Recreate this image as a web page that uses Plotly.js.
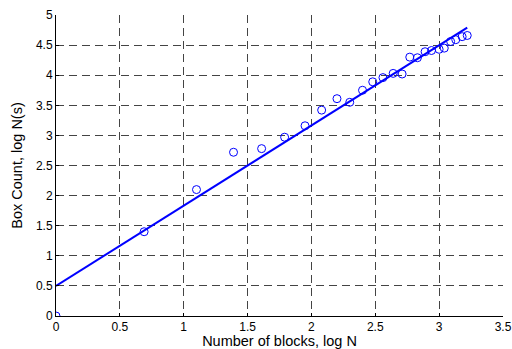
<!DOCTYPE html>
<html>
<head>
<meta charset="utf-8">
<script src="https://cdn.plot.ly/plotly-3.0.1.min.js"></script>
<style>html,body{margin:0;padding:0;background:#fff;}#chart{width:512px;height:349px;}</style>
</head>
<body>
<div id="chart"></div>
<script>
// log N (number of blocks)
const logN = [0, 0.69, 1.10, 1.39, 1.61, 1.79, 1.95, 2.08, 2.20, 2.30, 2.40, 2.48, 2.56, 2.64, 2.71, 2.77, 2.83, 2.89, 2.94, 3.00, 3.04, 3.09, 3.13, 3.18, 3.22];
// log N(s) box count
const logNs = [0, 1.40, 2.10, 2.72, 2.78, 2.97, 3.16, 3.42, 3.61, 3.55, 3.75, 3.89, 3.96, 4.03, 4.02, 4.30, 4.29, 4.39, 4.41, 4.43, 4.45, 4.56, 4.59, 4.64, 4.66];
// fitted line endpoints
const fitX = [0, 3.22];
const fitY = [0.5, 4.79];
const xTicks = [0, 0.5, 1, 1.5, 2, 2.5, 3, 3.5];
const yTicks = [0, 0.5, 1, 1.5, 2, 2.5, 3, 3.5, 4, 4.5, 5];

const font = 'Liberation Sans, Arial, sans-serif';
const traces = [
  {x: fitX, y: fitY, mode: 'lines', line: {color: '#0000ff', width: 2}, hoverinfo: 'skip'},
  {x: logN, y: logNs, mode: 'markers', marker: {symbol: 'circle-open', size: 8, color: '#0000ff', line: {width: 1, color: '#0000ff'}}}
];
const axisCommon = {
  showgrid: true, gridcolor: '#444', griddash: '8px,5px', gridwidth: 1,
  zeroline: false, showline: true, linecolor: '#000', linewidth: 1,
  ticks: 'inside', ticklen: 3, tickcolor: '#000',
  tickfont: {family: font, size: 12, color: '#000'}
};
const layout = {
  width: 512, height: 349,
  margin: {l: 55.5, r: 8.5, t: 15, b: 33},
  paper_bgcolor: '#fff', plot_bgcolor: '#fff',
  showlegend: false,
  font: {family: font, color: '#000'},
  xaxis: Object.assign({}, axisCommon, {
    range: [0, 3.5], tickvals: xTicks, ticktext: xTicks.map(String),
    title: {text: 'Number of blocks, log N', font: {family: font, size: 14.5, color: '#000'}, standoff: 3},
    automargin: false
  }),
  yaxis: Object.assign({}, axisCommon, {
    range: [0, 5], tickvals: yTicks, ticktext: yTicks.map(String),
    title: {text: 'Box Count, log N(s)', font: {family: font, size: 14.5, color: '#000'}, standoff: 9},
    automargin: false
  })
};
Plotly.newPlot('chart', traces, layout, {staticPlot: true, displayModeBar: false});
</script>
</body>
</html>
